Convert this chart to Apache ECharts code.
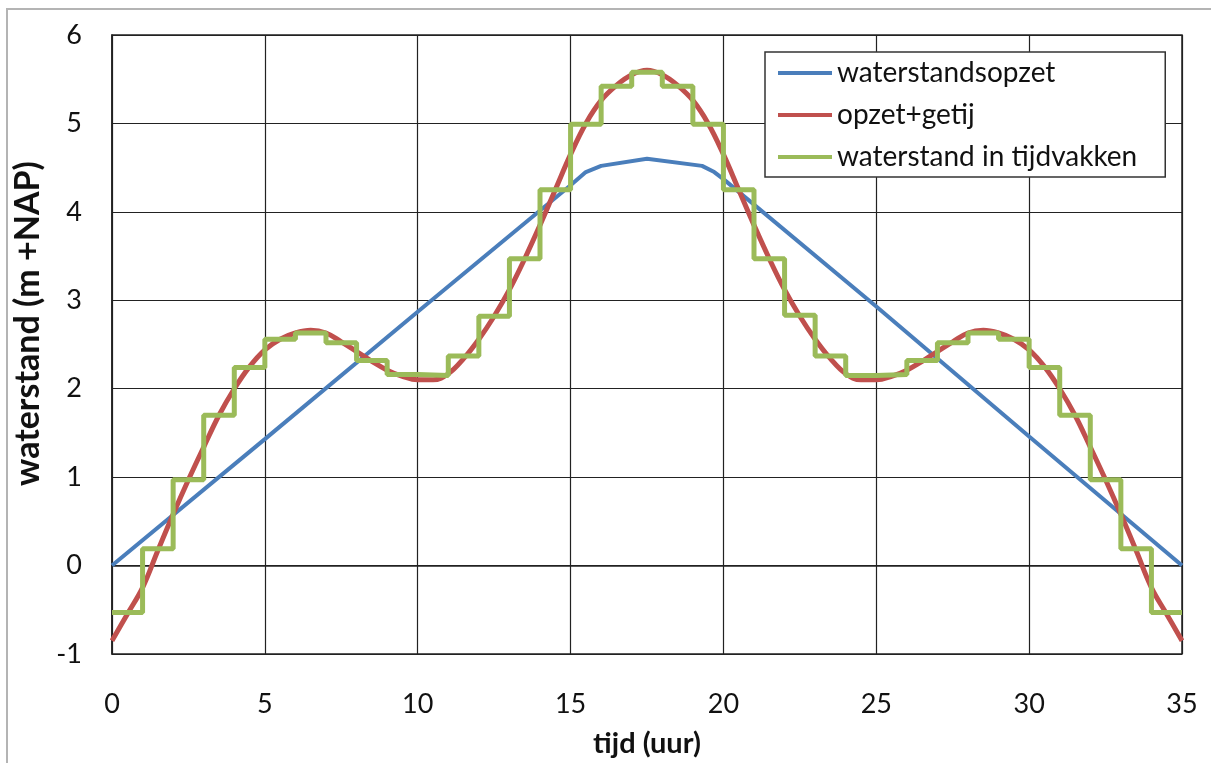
<!DOCTYPE html>
<html style="height: 100%" lang="nl">
<head>
    <meta charset="UTF-8">
    <title>waterstand</title>
</head>
<body style="height: 100%; margin: 0; background: #fff">
<div id="main" style="width: 1211px; height: 763px"></div>

<script src="https://cdn.jsdelivr.net/npm/echarts@6/dist/echarts.min.js"></script>
<script type="text/javascript">
    // waterstandsopzet
    var opzetTijd = [0, 5, 10, 15, 15.5, 16, 17.5, 19.3, 19.7, 20, 25, 30, 35];
    var opzetWaarde = [0, 1.43, 2.87, 4.3, 4.45, 4.52, 4.6, 4.52, 4.45, 4.37, 2.93, 1.46, 0];

    // opzet + getij
    var getijTijd = [0, 0.5, 1, 1.5, 2, 2.5, 3, 3.5, 4, 4.5, 5, 5.5, 6, 6.5, 7, 7.5, 8, 8.5, 9, 9.5,
        10, 10.5, 11, 11.5, 12, 12.5, 13, 13.5, 14, 14.5, 15, 15.5, 16, 16.5, 17, 17.5,
        18, 18.5, 19, 19.5, 20, 20.5, 21, 21.5, 22, 22.5, 23, 23.5, 24, 24.5, 25, 25.5,
        26, 26.5, 27, 27.5, 28, 28.5, 29, 29.5, 30, 30.5, 31, 31.5, 32, 32.5, 33, 33.5,
        34, 34.5, 35];
    var getijWaarde = [-0.85, -0.55, -0.25, 0.17, 0.58, 0.97, 1.34, 1.70, 2.00, 2.25, 2.44, 2.56, 2.63, 2.66, 2.63, 2.53, 2.42, 2.31, 2.21, 2.14,
        2.10, 2.10, 2.17, 2.34, 2.56, 2.82, 3.12, 3.47, 3.85, 4.25, 4.65, 5.00, 5.26, 5.43, 5.55, 5.60,
        5.55, 5.43, 5.26, 5.00, 4.65, 4.25, 3.85, 3.47, 3.12, 2.82, 2.56, 2.34, 2.17, 2.10, 2.10, 2.14,
        2.21, 2.31, 2.42, 2.53, 2.63, 2.66, 2.63, 2.56, 2.44, 2.25, 2.00, 1.70, 1.34, 0.97, 0.58, 0.17,
        -0.25, -0.55, -0.85];

    // waterstand in tijdvakken (per uur)
    var vakTijd = [0, 1, 2, 3, 4, 5, 6, 7, 8, 9, 10, 11, 12, 13, 14, 15, 16, 17, 18, 19, 20,
        21, 22, 23, 24, 25, 26, 27, 28, 29, 30, 31, 32, 33, 34, 35];
    var vakWaarde = [-0.53, 0.19, 0.97, 1.70, 2.24, 2.56, 2.63, 2.52, 2.32, 2.16, 2.15, 2.37, 2.82, 3.47, 4.25, 4.99, 5.42, 5.58,
        5.42, 4.99, 4.25, 3.47, 2.83, 2.37, 2.15, 2.16, 2.32, 2.52, 2.63, 2.56, 2.24, 1.70, 0.97, 0.19, -0.53, -0.53];

    var xTicks = [0, 5, 10, 15, 20, 25, 30, 35];
    var yTicks = [-1, 0, 1, 2, 3, 4, 5, 6];

    function paren(t, v) {
        var out = [];
        for (var i = 0; i < t.length; i++) out.push([t[i], v[i]]);
        return out;
    }

    var font = 'Lato, "Open Sans", sans-serif';
    var myChart = echarts.init(document.getElementById('main'));
    var option = {
        backgroundColor: '#fff',
        animation: false,
        textStyle: {fontFamily: font},
        graphic: [{
            type: 'rect',
            shape: {x: 7, y: 9, width: 1300, height: 800},
            style: {fill: 'none', stroke: '#b4b4b4', lineWidth: 2},
            silent: true
        }],
        grid: {left: 112, right: 29, top: 35, bottom: 104, show: true, borderColor: '#222', borderWidth: 1.5},
        legend: {
            orient: 'vertical',
            left: 765,
            top: 52,
            padding: [6, 28, 5, 13],
            itemGap: 12,
            itemWidth: 54,
            itemHeight: 4,
            icon: 'rect',
            backgroundColor: '#fff',
            borderColor: '#333',
            borderWidth: 1.5,
            textStyle: {fontFamily: font, fontSize: 28, color: '#111', lineHeight: 30},
            data: ['waterstandsopzet', 'opzet+getij', 'waterstand in tijdvakken']
        },
        xAxis: {
            type: 'value',
            min: xTicks[0],
            max: xTicks[xTicks.length - 1],
            interval: 5,
            name: 'tijd (uur)',
            nameLocation: 'middle',
            nameGap: 75,
            nameTextStyle: {fontFamily: font, fontSize: 29, fontWeight: 'bold', color: '#111'},
            axisLine: {lineStyle: {color: '#222', width: 1.5}},
            axisTick: {show: false},
            axisLabel: {fontFamily: font, fontSize: 27, color: '#111', margin: 37},
            splitLine: {lineStyle: {color: '#222', width: 1.2}}
        },
        yAxis: {
            type: 'value',
            min: yTicks[0],
            max: yTicks[yTicks.length - 1],
            interval: 1,
            name: 'waterstand (m +NAP)',
            nameLocation: 'middle',
            nameGap: 64,
            nameTextStyle: {fontFamily: font, fontSize: 34, fontWeight: 'bold', color: '#111', padding: [0, 0, 0, 42]},
            axisLine: {show: true, lineStyle: {color: '#222', width: 1.5}},
            axisTick: {show: false},
            axisLabel: {fontFamily: font, fontSize: 27, color: '#111', margin: 30},
            splitLine: {lineStyle: {color: '#222', width: 1.2}}
        },
        series: [
            {
                name: 'waterstandsopzet',
                type: 'line',
                showSymbol: false,
                color: '#4a7ebb',
                lineStyle: {width: 4},
                data: paren(opzetTijd, opzetWaarde)
            },
            {
                name: 'opzet+getij',
                type: 'line',
                smooth: 0.4,
                showSymbol: false,
                color: '#c0504d',
                lineStyle: {width: 5},
                data: paren(getijTijd, getijWaarde)
            },
            {
                name: 'waterstand in tijdvakken',
                type: 'line',
                step: 'end',
                showSymbol: false,
                color: '#9bbb59',
                lineStyle: {width: 5},
                data: paren(vakTijd, vakWaarde)
            }
        ]
    };

    myChart.setOption(option);
</script>
</body>
</html>
